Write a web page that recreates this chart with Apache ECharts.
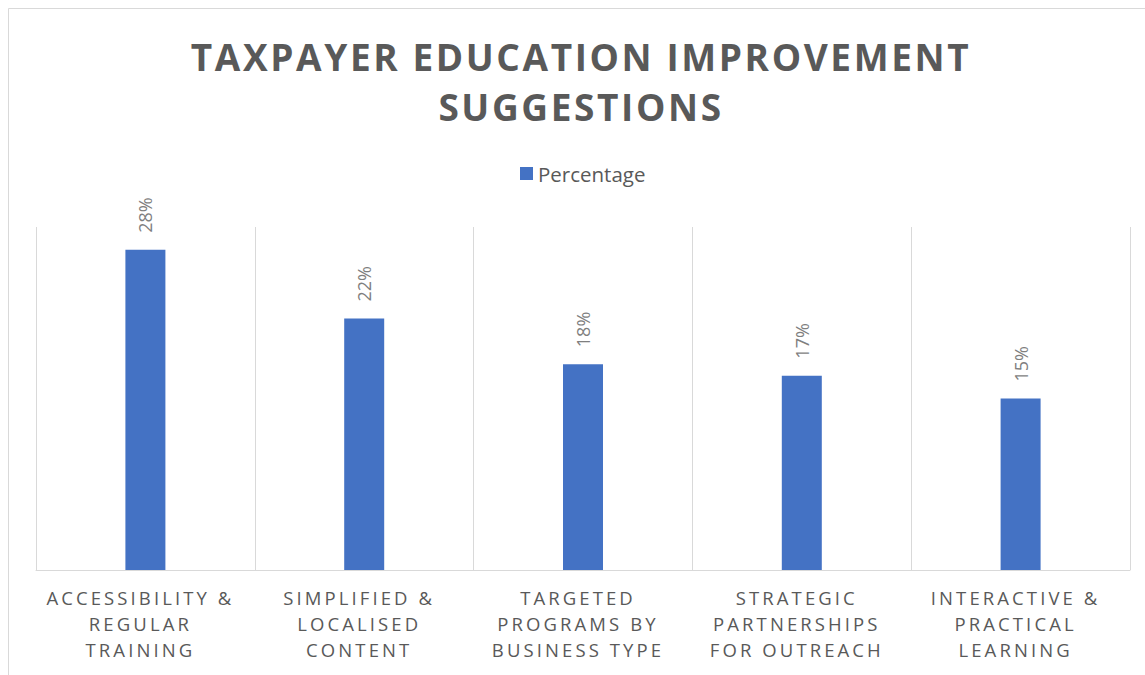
<!DOCTYPE html>
<html>
<head>
<meta charset="utf-8">
<script src="https://cdn.jsdelivr.net/npm/echarts@6/dist/echarts.min.js"></script>
<style>
html,body{margin:0;padding:0;background:#fff;}
#chart{width:1145px;height:675px;}
/* letter spacing for title and axis labels (SVG renderer) */
#chart text[style*="37px"]{letter-spacing:2.6px;}
#chart text[style*="18.5px"]{letter-spacing:3.1px;}
</style>
</head>
<body>
<div id="chart"></div>
<script>
const titleText = "TAXPAYER EDUCATION IMPROVEMENT\nSUGGESTIONS";
const seriesName = "Percentage";
const categories = [
  "ACCESSIBILITY &\nREGULAR\nTRAINING",
  "SIMPLIFIED &\nLOCALISED\nCONTENT",
  "TARGETED\nPROGRAMS BY\nBUSINESS TYPE",
  "STRATEGIC\nPARTNERSHIPS\nFOR OUTREACH",
  "INTERACTIVE &\nPRACTICAL\nLEARNING"
];
const values = [28, 22, 18, 17, 15];

const chart = echarts.init(document.getElementById('chart'), null, {renderer: 'svg'});
chart.setOption({
  animation: false,
  backgroundColor: '#ffffff',
  graphic: [{
    type: 'rect',
    shape: {x: 8.5, y: 8.5, width: 1160, height: 690},
    style: {fill: 'none', stroke: '#d9d9d9', lineWidth: 1},
    silent: true, z: -10
  }],
  title: {
    text: titleText,
    left: 576,
    textAlign: 'center',
    top: 26,
    textStyle: {
      fontFamily: 'Open Sans',
      fontWeight: 'bold',
      fontSize: 37,
      lineHeight: 50,
      color: '#595959'
    }
  },
  legend: {
    data: [seriesName],
    top: 163,
    left: 520,
    padding: 0,
    icon: 'rect',
    itemWidth: 13,
    itemHeight: 13,
    itemGap: 6,
    textStyle: {fontFamily: 'Open Sans', fontSize: 20.5, color: '#595959'}
  },
  grid: {left: 36, right: 15, top: 227, bottom: 105, containLabel: false},
  xAxis: {
    type: 'category',
    data: categories,
    boundaryGap: true,
    axisLine: {show: true, lineStyle: {color: '#d9d9d9', width: 1}},
    axisTick: {show: false},
    splitLine: {show: true, lineStyle: {color: '#d9d9d9', width: 1}},
    axisLabel: {
      interval: 0,
      margin: 14,
      padding: [0, 10, 0, 0],
      fontFamily: 'Open Sans',
      fontSize: 18.5,
      lineHeight: 26,
      color: '#595959'
    }
  },
  yAxis: {
    type: 'value',
    min: 0,
    max: 30,
    show: false,
    splitLine: {show: false}
  },
  series: [{
    name: seriesName,
    type: 'bar',
    data: values,
    barWidth: 40,
    itemStyle: {color: '#4472C4'},
    label: {
      show: true,
      position: 'top',
      distance: 17,
      rotate: 90,
      align: 'left',
      verticalAlign: 'middle',
      formatter: p => p.value + '%',
      fontFamily: 'Open Sans',
      fontSize: 18,
      color: '#7f7f7f'
    }
  }]
});
</script>
</body>
</html>
